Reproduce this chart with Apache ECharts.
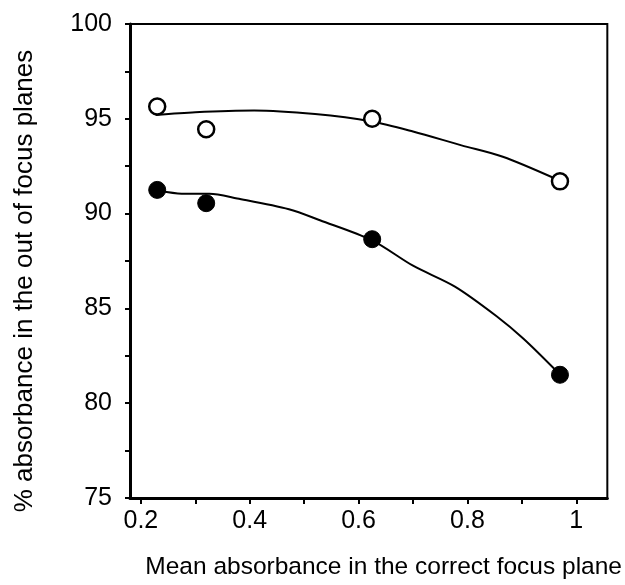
<!DOCTYPE html>
<html><head><meta charset="utf-8">
<script src="https://cdn.jsdelivr.net/npm/echarts@6/dist/echarts.min.js"></script>
<style>html,body{margin:0;padding:0;background:#fff}#c{width:625px;height:585px}</style>
</head><body><div id="c"></div>
<script>
const openX = [0.23, 0.32, 0.625, 0.97];
const openY = [95.65, 94.45, 95.0, 91.7];
const filledX = [0.23, 0.32, 0.625, 0.97];
const filledY = [91.25, 90.55, 88.65, 81.5];
const openCurveX = [0.227, 0.30, 0.408, 0.52, 0.624, 0.70, 0.789, 0.865, 0.961];
const openCurveY = [95.2, 95.35, 95.44, 95.25, 94.86, 94.33, 93.6, 93.0, 91.85];
const filledCurveX = [0.234, 0.275, 0.326, 0.377, 0.472, 0.529, 0.624, 0.70, 0.777, 0.853, 0.903, 0.96];
const filledCurveY = [91.2, 91.05, 91.05, 90.8, 90.23, 89.65, 88.6, 87.25, 86.15, 84.6, 83.4, 81.8];
const xLabels = [0.2, 0.4, 0.6, 0.8, 1];
const xTicks = [0.2, 0.3, 0.4, 0.5, 0.6, 0.7, 0.8, 0.9, 1.0];
const yTicks = [75, 77.5, 80, 82.5, 85, 87.5, 90, 92.5, 95, 97.5, 100];
const yLabels = [75, 80, 85, 90, 95, 100];
const xTitle = 'Mean absorbance in the correct focus plane';
const yTitle = '% absorbance in the out of focus planes';

const zip = (a, b) => a.map((v, i) => [v, b[i]]);
const font = 'Liberation Sans, Arial, sans-serif';
const chart = echarts.init(document.getElementById('c'));
chart.setOption({
  backgroundColor: '#fff',
  animation: false,
  grid: {left: 130, right: 15, top: 24, bottom: 82, show: true, borderColor: '#000', borderWidth: 2},
  xAxis: {
    type: 'value', min: 0.18, max: 1.057,
    axisLine: {lineStyle: {color: '#000', width: 3}},
    axisTick: {customValues: xTicks, length: 6, lineStyle: {color: '#000', width: 2}},
    axisLabel: {customValues: xLabels, color: '#000', fontSize: 25, fontFamily: font, margin: 11,
      formatter: v => String(v)},
    splitLine: {show: false},
    name: xTitle, nameLocation: 'middle', nameGap: 57,
    nameTextStyle: {color: '#000', fontSize: 24.5, fontFamily: font, padding: [0, 0, 0, 30]}
  },
  yAxis: {
    type: 'value', min: 75, max: 100,
    axisLine: {show: true, lineStyle: {color: '#000', width: 3}},
    axisTick: {show: true, customValues: yTicks, length: 5, lineStyle: {color: '#000', width: 2}},
    axisLabel: {customValues: yLabels, color: '#000', fontSize: 25, fontFamily: font, margin: 18,
      padding: [0, 0, 8, 0]},
    splitLine: {show: false},
    name: yTitle, nameLocation: 'middle', nameGap: 92, nameRotate: 90,
    nameTextStyle: {color: '#000', fontSize: 26, fontFamily: font, padding: [0, 40, 0, 0]}
  },
  series: [
    {type: 'line', data: zip(openCurveX, openCurveY), smooth: 0.3, showSymbol: false,
      lineStyle: {color: '#000', width: 2}, z: 2},
    {type: 'line', data: zip(filledCurveX, filledCurveY), smooth: 0.3, showSymbol: false,
      lineStyle: {color: '#000', width: 2}, z: 2},
    {type: 'scatter', data: zip(openX, openY), symbol: 'circle', symbolSize: 16,
      itemStyle: {color: '#fff', borderColor: '#000', borderWidth: 2.5, opacity: 1}, z: 3},
    {type: 'scatter', data: zip(filledX, filledY), symbol: 'circle', symbolSize: 17,
      itemStyle: {color: '#000', borderColor: '#000', borderWidth: 1, opacity: 1}, z: 3}
  ]
});
</script></body></html>
